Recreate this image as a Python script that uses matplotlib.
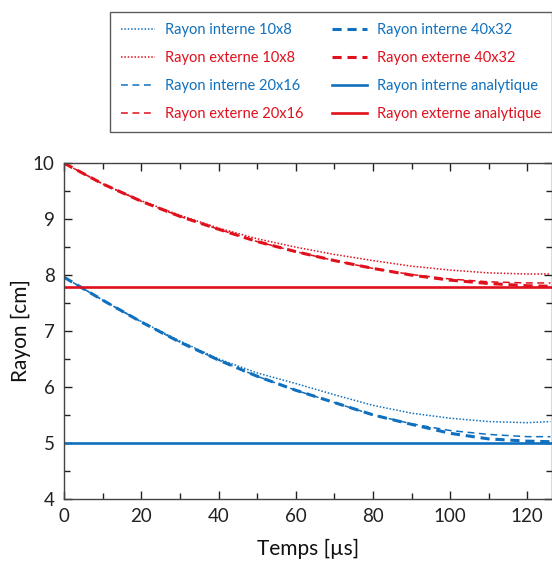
import matplotlib
matplotlib.use("Agg")
import matplotlib.pyplot as plt
from matplotlib.ticker import MultipleLocator

plt.rcParams['font.family'] = ['Lato', 'DejaVu Sans']

# Time grid (µs)
t = [0, 10, 20, 30, 40, 50, 60, 70, 80, 90, 100, 110, 120, 126]

# Outer radius (cm)
ext_10x8 = [10.0, 9.63, 9.33, 9.07, 8.84, 8.65, 8.50, 8.37, 8.26, 8.16, 8.09, 8.04, 8.02, 8.02]
ext_20x16 = [10.0, 9.63, 9.32, 9.05, 8.82, 8.60, 8.42, 8.26, 8.12, 8.01, 7.93, 7.88, 7.86, 7.86]
ext_40x32 = [10.0, 9.63, 9.32, 9.05, 8.82, 8.60, 8.42, 8.26, 8.12, 8.00, 7.91, 7.85, 7.81, 7.80]
ext_analytic = 7.78

# Inner radius (cm)
int_10x8 = [7.96, 7.55, 7.17, 6.82, 6.50, 6.25, 6.06, 5.86, 5.67, 5.53, 5.44, 5.38, 5.36, 5.38]
int_20x16 = [7.96, 7.55, 7.16, 6.80, 6.48, 6.19, 5.94, 5.72, 5.50, 5.34, 5.22, 5.15, 5.11, 5.11]
int_40x32 = [7.96, 7.55, 7.16, 6.80, 6.48, 6.19, 5.94, 5.72, 5.50, 5.33, 5.17, 5.07, 5.03, 5.02]
int_analytic = 5.0

blue = '#1070bd'
red = '#e0101c'

fig = plt.figure(figsize=(5.52, 5.62), dpi=100)
ax = fig.add_axes([0.1165, 0.1126, 0.8835, 0.5968])

h = {}
h['i10'], = ax.plot(t, int_10x8, color=blue, lw=1.1, ls=(0, (1.0, 1.2)), label='Rayon interne 10x8')
h['e10'], = ax.plot(t, ext_10x8, color=red, lw=1.1, ls=(0, (1.0, 1.2)), label='Rayon externe 10x8')
h['i20'], = ax.plot(t, int_20x16, color=blue, lw=1.1, ls=(0, (4.5, 3.0)), label='Rayon interne 20x16')
h['e20'], = ax.plot(t, ext_20x16, color=red, lw=1.1, ls=(0, (4.5, 3.0)), label='Rayon externe 20x16')
h['i40'], = ax.plot(t, int_40x32, color=blue, lw=2.2, ls=(0, (3.0, 1.9)), label='Rayon interne 40x32')
h['e40'], = ax.plot(t, ext_40x32, color=red, lw=2.2, ls=(0, (3.0, 1.9)), label='Rayon externe 40x32')
h['ia'] = ax.axhline(int_analytic, color=blue, lw=1.9, label='Rayon interne analytique')
h['ea'] = ax.axhline(ext_analytic, color=red, lw=1.9, label='Rayon externe analytique')

ax.set_xlim(0, 126.4)
ax.set_ylim(4, 10)
ax.xaxis.set_major_locator(MultipleLocator(20))
ax.xaxis.set_minor_locator(MultipleLocator(10))
ax.yaxis.set_major_locator(MultipleLocator(1))
ax.yaxis.set_minor_locator(MultipleLocator(0.5))
ax.tick_params(which='both', direction='in', top=True, right=True, colors='#222222',
               labelsize=13.5, width=1.0)
ax.tick_params(which='major', length=6, pad=7)
ax.tick_params(which='minor', length=4)
for s in ax.spines.values():
    s.set_color('#444444')
    s.set_linewidth(1.0)

ax.set_xlabel('Temps [µs]', fontsize=15, color='#111111', labelpad=10)
ax.set_ylabel('Rayon [cm]', fontsize=15, color='#111111', labelpad=1)

order = ['i10', 'e10', 'i20', 'e20', 'i40', 'e40', 'ia', 'ea']
leg = fig.legend([h[k] for k in order], [h[k].get_label() for k in order],
                 loc='upper right', bbox_to_anchor=(1.0, 0.9781),
                 ncol=2, fontsize=10.5, frameon=True, fancybox=False,
                 edgecolor='#333333', handlelength=2.35, handletextpad=0.7,
                 columnspacing=1.95, labelspacing=0.95, borderpad=0.75,
                 borderaxespad=0, labelcolor='linecolor')
leg.get_frame().set_linewidth(1.0)

fig.savefig('out.png', dpi=100)
